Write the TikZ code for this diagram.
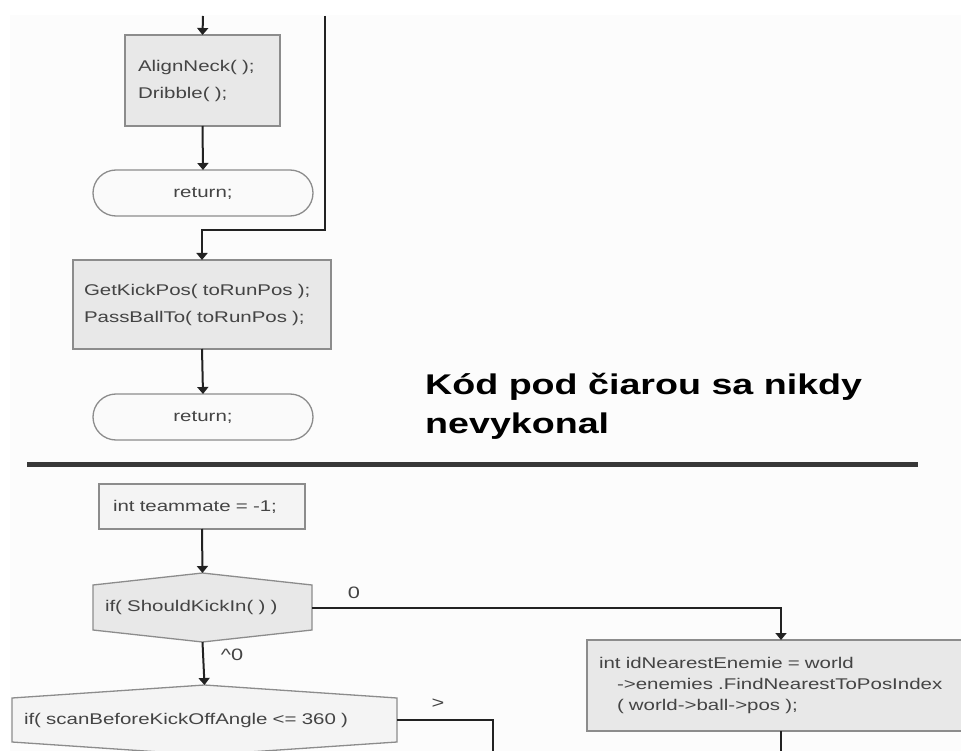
\documentclass[tikz,border=0pt]{standalone}
\usepackage{fontspec}
\setmainfont{Liberation Sans}[FakeStretch=1.32]
\usetikzlibrary{arrows.meta,shapes.misc,calc,backgrounds}
\definecolor{lineC}{HTML}{222222}
\definecolor{borderC}{HTML}{8C8C8C}
\definecolor{textC}{HTML}{444444}
\definecolor{fillA}{HTML}{E8E8E8}
\definecolor{fillB}{HTML}{F4F4F4}
\definecolor{fillC}{HTML}{FAFAFA}
\definecolor{bgC}{HTML}{FCFCFC}
\definecolor{ruleC}{HTML}{383838}
\begin{document}
\begin{tikzpicture}[x=1pt,y=-1pt,
  conn/.style={draw=lineC, line width=2pt},
  arr/.style={conn, -{Triangle[width=11pt,length=7pt]}},
  codebox/.style={draw=borderC, line width=1.3pt, rectangle, align=left,
    inner ysep=0pt, text=textC, outer sep=0pt,
    font=\fontsize{15.5}{27}\selectfont},
  hexnode/.style={draw=none, rectangle, align=left, inner ysep=0pt,
    outer sep=0pt, text=textC, font=\fontsize{15.5}{27}\selectfont},
  hexline/.style={draw=borderC, line width=1.3pt},
  retbox/.style={draw=borderC, line width=1.3pt, rounded rectangle, fill=fillC,
    minimum width=220pt, minimum height=46pt, inner sep=0pt, outer sep=0pt,
    text=textC, font=\fontsize{15.5}{27}\selectfont},
  lbl/.style={text=textC, inner sep=0pt, font=\fontsize{16.5}{20}\selectfont}
]
\useasboundingbox (0,0) rectangle (961,751);
\clip (0,0) rectangle (961,751);
\begin{pgfonlayer}{background}
  \fill[bgC] (10,15) rectangle (961,751);
\end{pgfonlayer}

% ---- upper part ----
\node[codebox, fill=fillA, text width=129pt, inner xsep=13pt, minimum height=91pt]
  (align) at (202.5,80.5) {AlignNeck( );\\Dribble( );};
\node[retbox] (ret1) at (203,193) {return;};
\node[codebox, fill=fillA, text width=236pt, inner xsep=11pt, minimum height=89pt]
  (kickpos) at (202,304.5) {GetKickPos( toRunPos );\\PassBallTo( toRunPos );};
\node[retbox] (ret2) at (203,417) {return;};

\coordinate (top1) at (203,16);
\coordinate (top2) at (325,16);
\coordinate (bend1) at (325,230);
\draw[arr] (top1) -- (align.north);
\draw[arr] (align.south) -- (ret1.north);
\draw[arr] (top2) -- (bend1) -| (kickpos.north);
\draw[arr] (kickpos.south) -- (ret2.north);

% ---- heading and rule ----
\node[anchor=base west, align=left, inner sep=0pt, text=black,
  font=\bfseries\fontsize{28.5}{39}\selectfont] (head) at (425,433)
  {Kód pod čiarou sa nikdy\\nevykonal};
\coordinate (ruleL) at (27,464);
\coordinate (ruleR) at (918,464);
\draw[draw=ruleC, line width=5pt] (ruleL) -- (ruleR);

% ---- lower part ----
\node[codebox, fill=fillB, text width=178pt, inner xsep=14pt, minimum height=45pt]
  (team) at (202,506.5) {int teammate = -1;};
\node[hexnode, text width=195pt, inner xsep=12pt, minimum height=69pt]
  (kick) at (202.5,607.5) {if( ShouldKickIn( ) )};
\node[hexnode, text width=361pt, inner xsep=12pt, minimum height=70pt]
  (scan) at (204.5,720) {if( scanBeforeKickOffAngle <= 360 )};
\node[codebox, fill=fillA, text width=364pt, inner xsep=12pt, minimum height=91pt,
  font=\fontsize{15.5}{21}\selectfont]
  (idn) at (781,685.5) {int idNearestEnemie = world\\
  \hspace*{18pt}->enemies .FindNearestToPosIndex\\
  \hspace*{18pt}( world->ball->pos );};

\begin{pgfonlayer}{background}
  \draw[hexline, fill=fillA] (kick.north) -- ($(kick.north east)+(0,12)$)
    -- ($(kick.south east)+(0,-12)$) -- (kick.south)
    -- ($(kick.south west)+(0,-12)$) -- ($(kick.north west)+(0,12)$) -- cycle;
  \draw[hexline, fill=fillB] (scan.north) -- ($(scan.north east)+(0,13)$)
    -- ($(scan.south east)+(0,-13)$) -- (scan.south)
    -- ($(scan.south west)+(0,-13)$) -- ($(scan.north west)+(0,13)$) -- cycle;
\end{pgfonlayer}

\node[lbl] (l0) at (354,593) {0};
\node[lbl] (lnot0) at (232,655) {\textasciicircum 0};
\node[lbl] (lgt) at (438,704) {>};

\coordinate (free1) at (493,770);
\draw[arr] (team.south) -- (kick.north);
\draw[arr] (kick.east) -| (idn.north);
\draw[arr] (kick.south) -- (scan.north);
\draw[conn] (scan.east) -| (free1);
\draw[conn] (idn.south) -- ++(0,40);
\end{tikzpicture}
\end{document}
